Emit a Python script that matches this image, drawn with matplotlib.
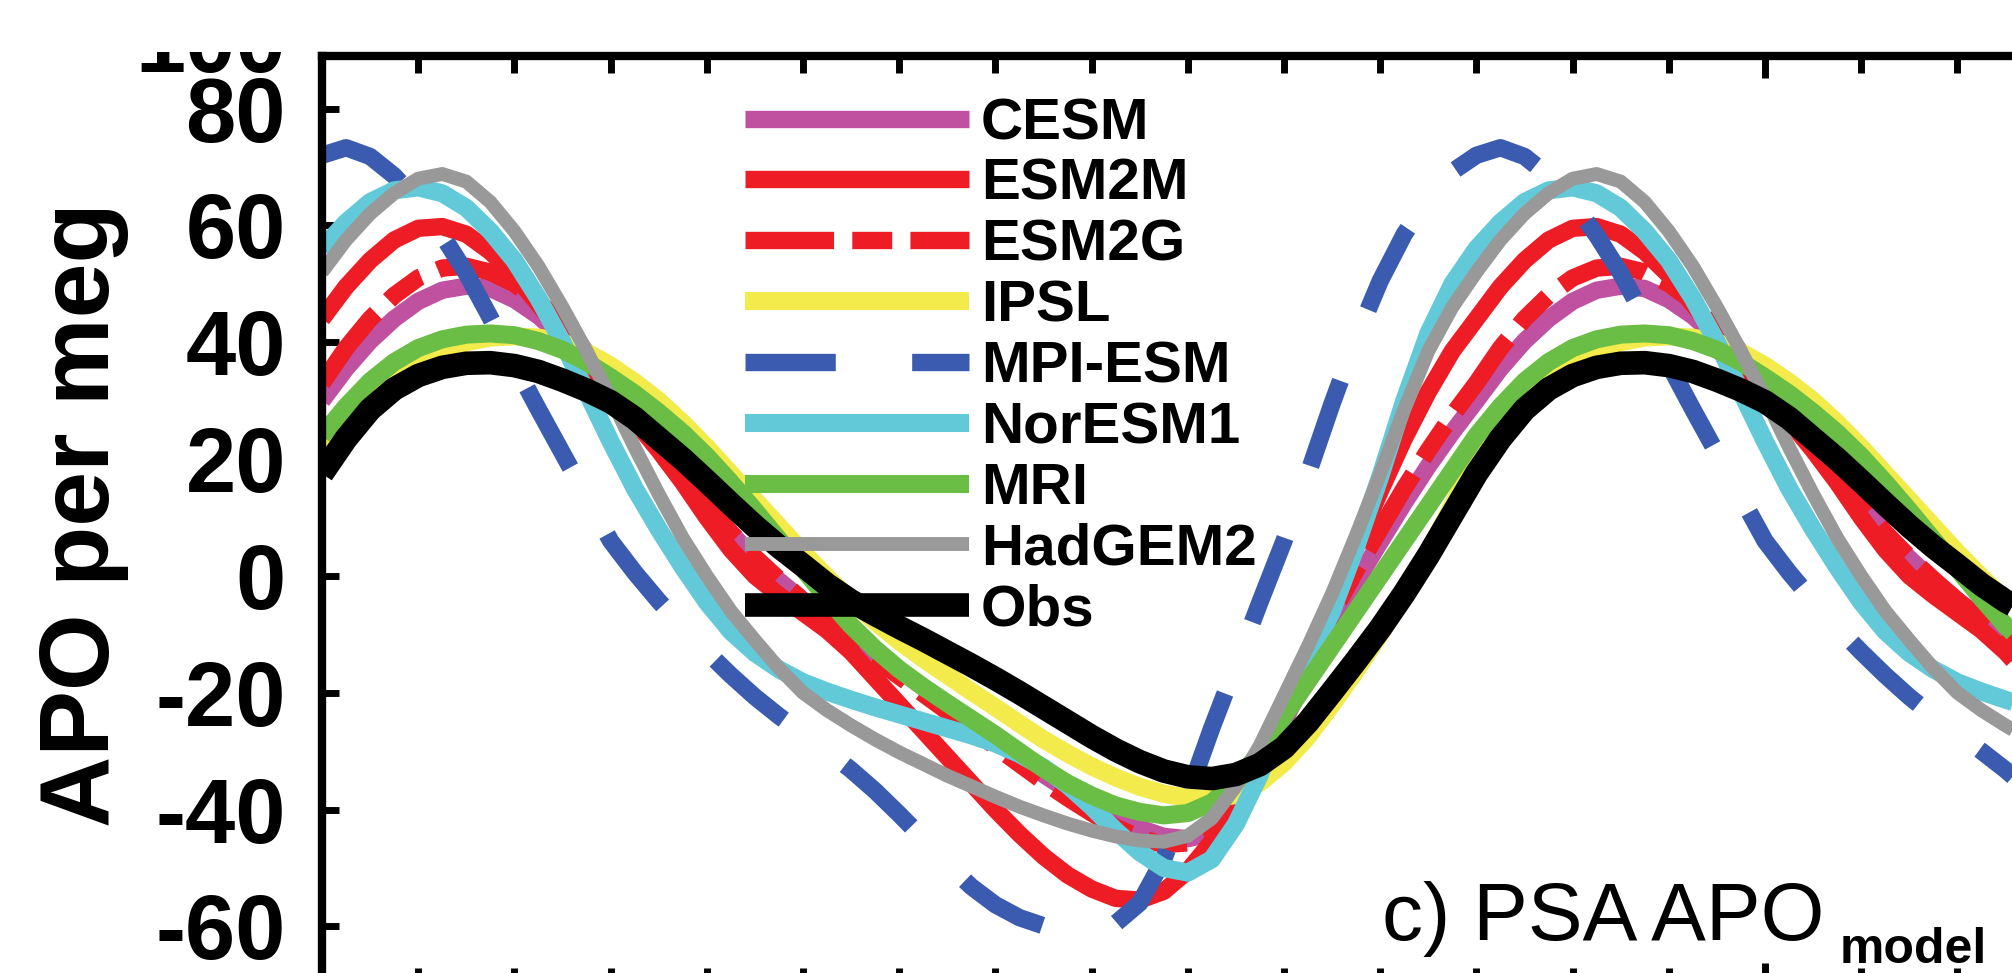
import numpy as np
import matplotlib.pyplot as plt
from matplotlib.ticker import FixedLocator
from matplotlib.transforms import Bbox, TransformedBbox

plt.rcParams['font.family'] = ['Liberation Sans', 'DejaVu Sans']
plt.rcParams['axes.unicode_minus'] = False

# one seasonal cycle in quarter-month steps (the figure shows it twice)
months = np.arange(0, 12.25, 0.25)

cesm = [30, 35.5, 40.2, 44, 47, 48.9, 49.6, 49.2, 47.3, 44.5, 40.8, 36.5, 32,
        27, 22, 17, 12, 7.3, 3, -0.8, -4.2, -7.3, -10.3, -13.2, -16.1, -19.1,
        -22.1, -25.1, -28.1, -31.1, -34, -36.7, -39.2, -41.4, -43.2, -44.6,
        -45, -44, -40.2, -33.5, -25, -16.5, -8.5, -1, 5.8, 12.5, 18.8, 24.6, 30]
esm2m = [44, 49.5, 54, 57.5, 59.5, 59.8, 58.5, 55.5, 51.5, 46.5, 41.5, 36.5,
         31.5, 26.5, 21.5, 16, 10, 4.5, 0, -3.3, -6.3, -9.3, -13, -17.5, -22,
         -26.5, -31, -35.5, -40, -44.2, -48, -51.2, -53.6, -55.2, -55.5, -54,
         -50.5, -45.5, -39, -31, -22.5, -13.5, -4.5, 5, 14.5, 23.5, 31.5, 38.5,
         44]
esm2g = [33, 39, 44, 48, 51, 52.7, 53, 52, 50, 47, 43, 38.3, 33.3, 28.2, 23,
         17.5, 12.2, 7.4, 3.2, -0.6, -4.2, -7.7, -11.1, -14.2, -17.2, -20.2,
         -23.2, -26.2, -29.2, -32.2, -35.2, -38, -40.6, -43, -44.9, -46, -45.7,
         -43, -37.5, -30.5, -22.5, -14.5, -6.5, 1, 8, 15, 21.5, 27.5, 33]
ipsl = [20, 25.5, 30.3, 34, 36.8, 38.7, 40, 40.8, 41, 40.8, 40, 38.3, 36, 33.2,
        30, 26.2, 22, 17.5, 13, 8.5, 4, -0.2, -4.2, -7.8, -11.2, -14.2, -17,
        -19.8, -22.5, -25.3, -28, -30.4, -32.6, -34.5, -36.1, -37.3, -38,
        -38.2, -37.5, -35.4, -32, -27.5, -22, -16.2, -10, -3.2, 4, 12, 20]
mpi = [72, 73.3, 71.8, 68.5, 64, 58.3, 51.8, 44.2, 36.2, 28.5, 21, 13.5, 6,
       0.6, -4.3, -8.8, -13, -17, -20.7, -24, -27, -30, -33.2, -36.8, -40.8,
       -45, -49.3, -53.2, -56.3, -58.5, -59.9, -60.8, -60.8, -59.5, -56,
       -48.5, -37.5, -26, -15.3, -4.5, 6, 17.5, 29.5, 40.7, 50.5, 58.5, 64.6,
       69.2, 72]
noresm = [56, 60.5, 64, 66, 66.5, 65.5, 63, 59, 54, 47.5, 40, 31.5, 23, 15, 8,
          1.5, -4.5, -9.5, -13.2, -16, -18.2, -19.8, -21.2, -22.5, -23.7,
          -24.9, -26.1, -27.3, -28.7, -30.5, -32.8, -35.8, -39.5, -43.6, -47.3,
          -50, -50.8, -48.5, -42.5, -34, -24, -15, -6, 5, 17, 30, 41.5, 50, 56]
mri = [24, 29, 33.3, 36.6, 39, 40.5, 41.3, 41.5, 41.2, 40.2, 38.7, 36.6, 34,
       31.2, 28, 24.5, 20.5, 16, 11.2, 6.2, 1.2, -3.8, -8.5, -12.5, -16, -19,
       -21.8, -24.5, -27.2, -30.1, -33, -35.5, -37.6, -39.3, -40.4, -41,
       -40.6, -38.8, -35.3, -30.2, -24, -18, -12, -6, 0, 6, 12, 18, 24]
hadgem = [52, 57.5, 62, 65.5, 68, 68.8, 67.5, 64, 59, 53, 46, 38.5, 30.5, 22,
          14, 6.5, 0, -6, -11, -15.8, -20, -23, -25.6, -28, -30.2, -32.2,
          -34.2, -36, -37.8, -39.5, -41, -42.4, -43.6, -44.6, -45.3, -45.5,
          -44.5, -41.5, -36, -29, -20.5, -12, -3, 7, 17.5, 28.5, 38.5, 46, 52]
obs = [17.5, 23.5, 28.5, 32, 34.3, 35.7, 36.4, 36.5, 36, 35, 33.5, 31.8, 29.8,
       27, 23.5, 20, 16.2, 12.3, 8.5, 5, 1.8, -1.5, -4.3, -6.6, -8.8, -10.9,
       -13.1, -15.3, -17.6, -20, -22.5, -25, -27.5, -29.8, -31.8, -33.4,
       -34.4, -34.7, -34, -32.3, -29.4, -25, -19.8, -14.5, -9, -3, 3.5, 10.5,
       17.5]

series = [
    ("CESM", cesm, "#C050A0", 12.5, None),
    ("ESM2M", esm2m, "#EE1C25", 12.5, None),
    ("ESM2G", esm2g, "#EE1C25", 12.5, (5.1, 1.05, 2.3, 1.05)),
    ("IPSL", ipsl, "#F2EB4B", 13, None),
    ("MPI-ESM", mpi, "#3A5BB0", 12.5, (5.2, 4.4)),
    ("NorESM1", noresm, "#62C9D9", 13, None),
    ("MRI", mri, "#6ABD45", 13, None),
    ("HadGEM2", hadgem, "#999999", 10, None),
    ("Obs", obs, "black", 17, None),
]

# first cycle plus the first half of the repeated one
x_all = np.concatenate([months, months[1:25] + 12])

fig = plt.figure(figsize=(20.12, 9.73), dpi=100)
ax = fig.add_axes([322 / 2012, -0.01213, 1731.6 / 2012, 0.95458])

for name, vals, col, lw, dash in series:
    vals = np.asarray(vals, dtype=float)
    y_all = np.concatenate([vals, vals[1:25]])
    line, = ax.plot(x_all, y_all, color=col, lw=lw, label=name,
                    solid_capstyle='butt', dash_capstyle='butt',
                    solid_joinstyle='round', dash_joinstyle='round')
    if dash is not None:
        line.set_dashes(dash)

ax.set_xlim(0, 18)
ax.set_ylim(-70, 89)

for sp in ax.spines.values():
    sp.set_linewidth(6)

ax.yaxis.set_major_locator(FixedLocator(range(-60, 81, 20)))
ax.tick_params(axis='y', direction='in', length=12, width=5, labelsize=65,
               pad=26, left=True, right=False)
for t in ax.get_yticklabels():
    t.set_fontweight('bold')

ax.xaxis.set_major_locator(FixedLocator([15]))
ax.xaxis.set_minor_locator(FixedLocator([i for i in range(1, 18) if i != 15]))
ax.tick_params(axis='x', which='both', direction='in', top=True, bottom=True,
               labelbottom=False, width=5)
ax.tick_params(axis='x', which='major', length=16)
ax.tick_params(axis='x', which='minor', length=12)

leg = ax.legend(loc='upper left', bbox_to_anchor=(745 / 2012, 1 - 97 / 973),
                bbox_transform=fig.transFigure, frameon=False,
                prop={'size': 42, 'weight': 'bold'}, handlelength=3.84,
                handletextpad=0.2, labelspacing=0.117, borderpad=0,
                borderaxespad=0)

fig.text(84 / 2012, 1 - 515 / 973, 'APO per meg', rotation=90, ha='center',
         va='center', fontsize=71, fontweight='bold')

# clipped remnant of the "100" label above the top spine
t100 = fig.text(286 / 2012, 1 - 72 / 973, '100', ha='right', va='baseline',
                fontsize=65, fontweight='bold')
t100.set_clip_on(True)
t100.set_clip_box(TransformedBbox(Bbox.from_extents(0, 0, 1, 1 - 52 / 973),
                                  fig.transFigure))

fig.text(1382 / 2012, 1 - 940 / 973, 'c) PSA APO', ha='left', va='baseline',
         fontsize=59)
fig.text(1840 / 2012, 1 - 963 / 973, 'model', ha='left', va='baseline',
         fontsize=36, fontweight='bold')

fig.savefig('out.png', dpi=100)
